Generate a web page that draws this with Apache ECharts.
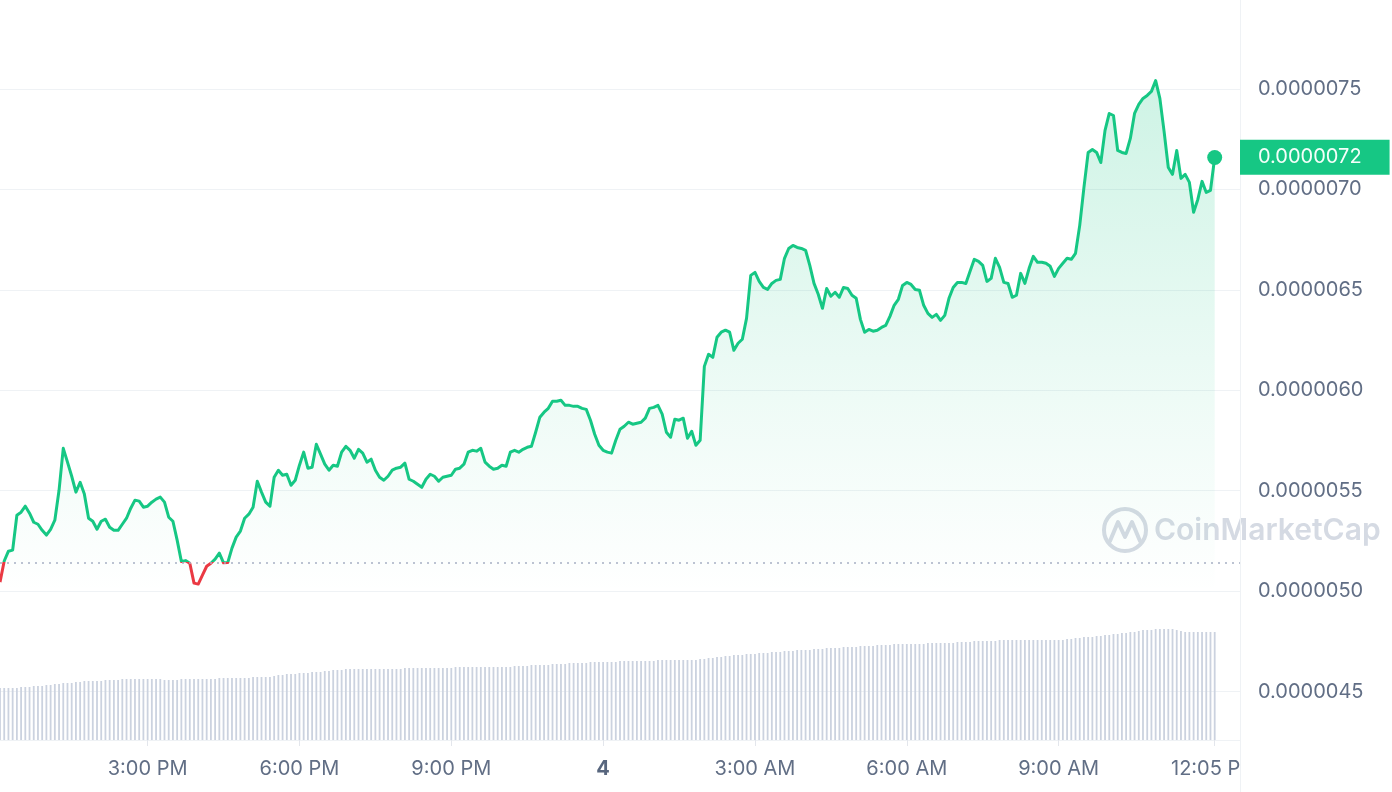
<!DOCTYPE html>
<html>
<head>
<meta charset="utf-8">
<script src="https://cdn.jsdelivr.net/npm/echarts@6/dist/echarts.min.js"></script>
<style>
  html, body { margin: 0; padding: 0; background: #ffffff; }
  #chart { width: 1392px; height: 792px; }
</style>
</head>
<body>
<div id="chart"></div>
<script>
// Price in micro-units (×0.000001), one point every 5 minutes from 12:05 PM (day 3) to 12:05 PM (day 4)
const price = [5.045,5.150,5.199,5.204,5.378,5.393,5.423,5.388,5.343,5.333,
5.303,5.279,5.308,5.353,5.502,5.711,5.642,5.572,5.493,5.542,
5.483,5.363,5.348,5.308,5.348,5.358,5.318,5.303,5.303,5.333,
5.363,5.413,5.453,5.448,5.418,5.423,5.443,5.458,5.468,5.443,
5.368,5.348,5.254,5.148,5.152,5.139,5.040,5.035,5.080,5.124,
5.139,5.159,5.189,5.141,5.142,5.214,5.269,5.299,5.363,5.383,
5.418,5.547,5.493,5.443,5.423,5.567,5.602,5.577,5.582,5.527,
5.552,5.627,5.692,5.612,5.617,5.731,5.682,5.632,5.602,5.627,
5.622,5.692,5.721,5.701,5.662,5.706,5.687,5.642,5.657,5.602,
5.567,5.552,5.572,5.602,5.612,5.617,5.637,5.557,5.547,5.532,
5.517,5.557,5.582,5.572,5.547,5.567,5.572,5.577,5.607,5.612,
5.632,5.692,5.701,5.697,5.711,5.642,5.622,5.607,5.612,5.627,
5.622,5.692,5.701,5.692,5.706,5.716,5.721,5.791,5.866,5.891,
5.910,5.945,5.945,5.950,5.925,5.925,5.920,5.920,5.910,5.905,
5.851,5.781,5.726,5.701,5.692,5.687,5.751,5.806,5.821,5.841,
5.831,5.836,5.841,5.861,5.910,5.915,5.925,5.881,5.791,5.766,
5.856,5.851,5.861,5.761,5.796,5.726,5.751,6.119,6.179,6.164,
6.264,6.289,6.299,6.289,6.199,6.234,6.254,6.358,6.572,6.587,
6.542,6.512,6.502,6.532,6.547,6.552,6.657,6.706,6.721,6.711,
6.706,6.697,6.622,6.532,6.478,6.408,6.507,6.468,6.488,6.463,
6.512,6.507,6.473,6.458,6.353,6.289,6.303,6.294,6.299,6.313,
6.323,6.368,6.423,6.453,6.522,6.537,6.527,6.502,6.498,6.423,
6.383,6.363,6.378,6.348,6.373,6.458,6.512,6.537,6.537,6.532,
6.592,6.652,6.642,6.622,6.542,6.557,6.657,6.612,6.537,6.532,
6.463,6.473,6.582,6.532,6.607,6.667,6.637,6.637,6.632,6.617,
6.567,6.607,6.632,6.657,6.652,6.682,6.821,7.010,7.184,7.199,
7.184,7.134,7.294,7.378,7.368,7.194,7.184,7.179,7.254,7.378,
7.423,7.453,7.468,7.488,7.542,7.453,7.289,7.109,7.075,7.194,
7.055,7.075,7.035,6.886,6.950,7.040,6.985,6.995,7.159];

// Volume (relative units), one bar every 5 minutes
const volume = [52,52,52,52,52,
53,53,53,54,54,54,
55,55,56,56,57,57,57,58,58,
59,59,59,59,59,60,60,60,60,61,61,
61,61,61,61,61,61,61,61,60,60,60,60,61,61,61,61,61,61,61,61,61,62,62,62,
62,62,62,62,62,63,63,63,63,63,64,
65,65,66,66,66,67,67,67,68,
68,68,69,69,70,70,70,71,71,
71,71,71,71,71,71,71,71,71,71,71,71,72,72,72,72,72,72,72,72,72,72,72,72,73,73,73,73,73,73,73,73,73,73,73,
73,73,73,74,74,74,74,75,75,75,75,75,76,76,76,76,77,77,77,77,77,78,78,
78,78,78,78,78,79,79,79,79,79,79,79,79,79,80,80,80,80,80,80,80,80,
80,80,81,81,82,82,83,83,84,84,85,85,85,86,
86,86,87,87,87,88,88,88,89,89,89,90,
90,90,90,91,91,91,92,92,92,92,93,93,
93,93,94,94,94,94,95,95,95,95,96,96,
96,96,96,96,96,96,97,97,97,97,97,
97,97,98,98,98,98,99,99,99,99,99,99,100,100,100,100,
100,100,100,100,100,100,100,100,100,100,100,100,101,101,102,102,103,
103,103,104,104,105,105,106,106,107,107,108,108,109,
110,110,110,111,111,111,111,111,110,109,
108,108,108,108,108,108,108,108];

const basePrice = 5.144;            // opening reference (dotted line)
const startDay = 3;
const startMinute = 12 * 60 + 5;    // 12:05 PM
const stepMinutes = 5;
const slotCount = 295;              // axis extends a little past the last point

const tickKeys   = ['3 15:00', '3 18:00', '3 21:00', '4 00:00', '4 03:00', '4 06:00', '4 09:00', '4 12:05'];
const tickLabels = ['3:00 PM', '6:00 PM', '9:00 PM', '4', '3:00 AM', '6:00 AM', '9:00 AM', '12:05 PM'];

const yMin = 4.0, yMax = 7.943, yTickStep = 0.5;

// Build category keys "day HH:MM"
const pad = n => (n < 10 ? '0' : '') + n;
const categories = [];
for (let i = 0; i < slotCount; i++) {
  const t = startMinute + i * stepMinutes;
  const day = startDay + Math.floor(t / 1440);
  const m = t % 1440;
  categories.push(day + ' ' + pad(Math.floor(m / 60)) + ':' + pad(m % 60));
}

const GREEN = '#16c784', RED = '#ea3943';
const lastIdx = price.length - 1;
const lastVal = price[lastIdx];

const chart = echarts.init(document.getElementById('chart'), null, { renderer: 'canvas' });
chart.setOption({
  backgroundColor: '#ffffff',
  animation: false,
  textStyle: { fontFamily: 'Inter, "Noto Sans", sans-serif' },
  grid: [
    { left: 0, right: 152, top: 0, bottom: 0 },
    { left: 0, right: 152, top: 600, bottom: 52 }
  ],
  xAxis: [
    { type: 'category', gridIndex: 0, data: categories, boundaryGap: false, show: false },
    {
      type: 'category', gridIndex: 1, data: categories, boundaryGap: false,
      axisLine: { show: true, lineStyle: { color: '#eff2f5', width: 1 } },
      axisTick: {
        show: true, length: 6, lineStyle: { color: '#e3e6ec' },
        interval: (i, v) => tickKeys.indexOf(v) >= 0
      },
      axisLabel: {
        interval: (i, v) => tickKeys.indexOf(v) >= 0,
        margin: 19,
        fontSize: 20,
        color: '#616e85',
        fontFamily: 'Inter',
        formatter: v => {
          const k = tickKeys.indexOf(v);
          if (k < 0) return '';
          return k === 3 ? '{b|' + tickLabels[k] + '}' : tickLabels[k];
        },
        rich: { b: { fontWeight: 'bold', fontSize: 20, color: '#58667e', fontFamily: 'Inter' } }
      },
      splitLine: { show: false }
    }
  ],
  yAxis: [
    {
      type: 'value', gridIndex: 0, position: 'right',
      min: yMin, max: yMax, interval: yTickStep,
      axisLine: { show: true, lineStyle: { color: '#eff2f5', width: 1 } },
      axisTick: { show: false },
      axisLabel: {
        showMinLabel: false, showMaxLabel: false,
        margin: 18, fontSize: 20, color: '#616e85', fontFamily: 'Inter',
        formatter: v => (v / 1e6).toFixed(7)
      },
      splitLine: { show: true, showMinLine: false, showMaxLine: false, lineStyle: { color: '#eff2f5', width: 1 } }
    },
    { type: 'value', gridIndex: 1, min: 0, max: 140, show: false, splitLine: { show: false } }
  ],
  visualMap: {
    type: 'piecewise', show: false, seriesIndex: 0, dimension: 1,
    pieces: [
      { gte: 0, lt: basePrice, color: RED },
      { gte: basePrice, lte: 100, color: GREEN }
    ]
  },
  series: [
    {
      type: 'line', xAxisIndex: 0, yAxisIndex: 0, data: price,
      showSymbol: false, symbol: 'none',
      lineStyle: { width: 3, join: 'round' },
      areaStyle: {
        color: new echarts.graphic.LinearGradient(0, 0, 0, 1, [
          { offset: 0, color: 'rgba(22,199,132,0.30)' },
          { offset: 0.45, color: 'rgba(22,199,132,0.10)' },
          { offset: 0.72, color: 'rgba(22,199,132,0.0)' },
          { offset: 1, color: 'rgba(22,199,132,0.0)' }
        ])
      },
      markLine: {
        silent: true, symbol: 'none', animation: false,
        data: [
          {
            yAxis: basePrice,
            lineStyle: { color: '#a6b0c3', type: [2, 5], width: 1.5 },
            label: { show: false }
          },
          {
            yAxis: lastVal,
            lineStyle: { color: 'rgba(0,0,0,0)', width: 1 },
            label: {
              show: true, position: 'end', distance: 0,
              formatter: () => (lastVal / 1e6).toFixed(7),
              backgroundColor: GREEN, color: '#f4fffa',
              fontSize: 20, fontFamily: 'Inter', lineHeight: 21,
              padding: [7, 28, 7, 18]
            }
          }
        ]
      },
      z: 3
    },
    {
      type: 'scatter', xAxisIndex: 0, yAxisIndex: 0,
      data: [[lastIdx, lastVal]],
      symbolSize: 15, itemStyle: { color: GREEN, opacity: 1 }, z: 4, silent: true
    },
    {
      type: 'bar', xAxisIndex: 1, yAxisIndex: 1, data: volume,
      barWidth: 1.8, itemStyle: { color: '#cbd2df' }, silent: true, z: 2
    }
  ],
  graphic: [
    { type: 'rect', z: 100, shape: { x: 1241, y: 745, width: 151, height: 47 }, style: { fill: '#ffffff' } },
    {
      type: 'group', z: 1, silent: true,
      children: [
        { type: 'circle', shape: { cx: 1125, cy: 530, r: 21 }, style: { fill: 'none', stroke: '#d5dae3', lineWidth: 4 } },
        { type: 'polyline', shape: { points: [[1110, 541], [1118, 522], [1125, 537], [1132, 522], [1140, 541]] },
          style: { fill: 'none', stroke: '#d5dae3', lineWidth: 4, lineJoin: 'round', lineCap: 'round' } },
        { type: 'text', style: { x: 1154, y: 531, text: 'CoinMarketCap', fill: '#d5dae3',
          font: '600 30px Inter', textVerticalAlign: 'middle', verticalAlign: 'middle' } }
      ]
    }
  ]
});
</script>
</body>
</html>
